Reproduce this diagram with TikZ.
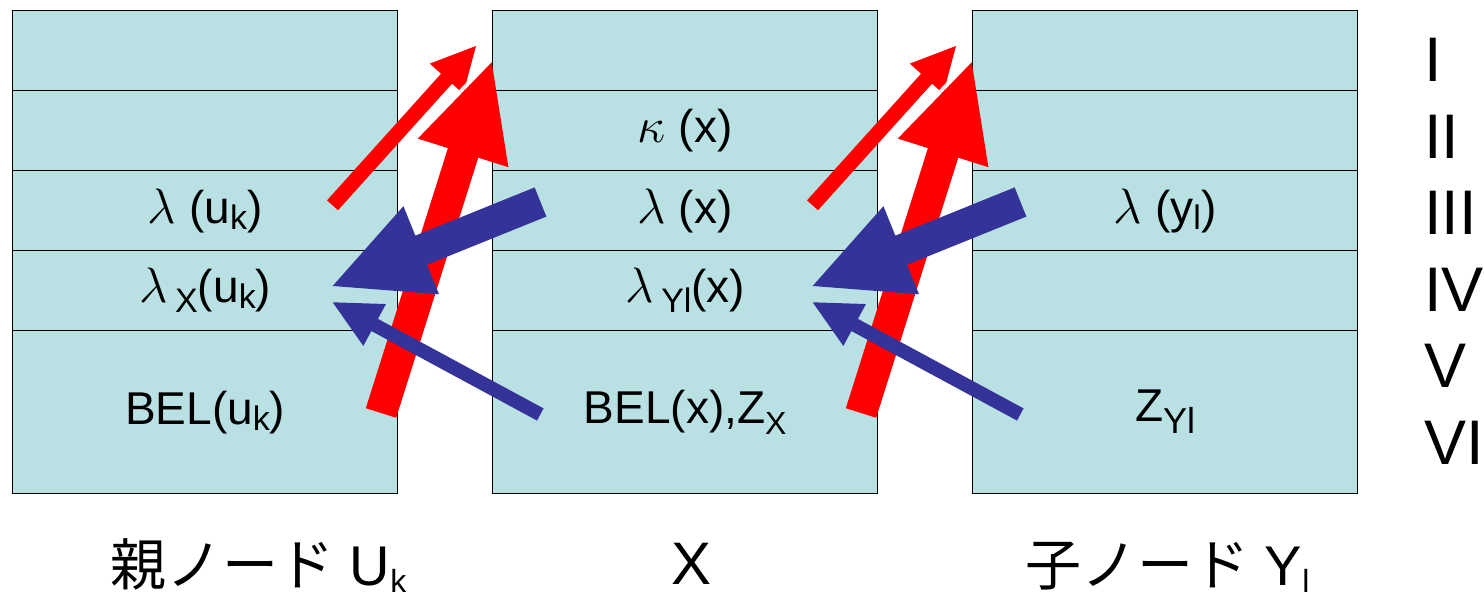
\documentclass[tikz,border=0pt]{standalone}
\usepackage{fontspec}
\setmainfont{Liberation Sans}
\newfontfamily\cjk{Noto Sans CJK JP}
\usetikzlibrary{calc}
\definecolor{cellfill}{RGB}{185,224,226}
\definecolor{arrred}{RGB}{255,0,0}
\definecolor{arrblue}{RGB}{51,51,153}
% lowered small text: #1 size (pt), #2 lowering, #3 text
\newcommand\lowtxt[3]{\raisebox{#2}{\fontsize{#1}{#1}\selectfont #3}}
% block arrow geometry: #1 name, #2 tail, #3 tip, #4 half shaft, #5 half head, #6 head length
\newcommand\defarrow[6]{%
  \coordinate (#1-T) at (#2);
  \coordinate (#1-P) at (#3);
  \coordinate (#1-B) at ($(#1-P)!#6!(#1-T)$);
  \coordinate (#1-1) at ($(#1-T)!#4!90:(#1-P)$);
  \coordinate (#1-2) at ($(#1-B)!#4!-90:(#1-T)$);
  \coordinate (#1-3) at ($(#1-B)!#5!-90:(#1-T)$);
  \coordinate (#1-4) at ($(#1-B)!#5!90:(#1-T)$);
  \coordinate (#1-5) at ($(#1-B)!#4!90:(#1-T)$);
  \coordinate (#1-6) at ($(#1-T)!#4!-90:(#1-P)$);
}
\newcommand\arrowfill[2]{\fill[#2] (#1-1) -- (#1-2) -- (#1-3) -- (#1-P) -- (#1-4) -- (#1-5) -- (#1-6) -- cycle;}
\newcommand\arrowclip[1]{\clip (#1-1) -- (#1-2) -- (#1-3) -- (#1-P) -- (#1-4) -- (#1-5) -- (#1-6) -- cycle;}
\newcommand\arrowline[2]{\draw[#2] (#1-1) -- (#1-2) -- (#1-3) -- (#1-P) -- (#1-4) -- (#1-5) -- (#1-6) -- cycle;}

\begin{document}
\begin{tikzpicture}[x=0.5pt,y=-0.5pt,
  cell/.style={draw=black,line width=0.65pt,fill=cellfill,rectangle,inner sep=0pt,
    minimum width=192.5pt,minimum height=40pt,anchor=north west,
    font=\fontsize{23}{23}\selectfont},
  tallcell/.style={cell,minimum height=81.5pt},
  numeral/.style={anchor=base west,inner sep=0pt,font=\fontsize{31.5}{31.5}\selectfont},
  caption/.style={anchor=base west,inner sep=0pt,font=\fontsize{28}{28}\selectfont},
  redfill/.style={fill=arrred},
  bluefill/.style={fill=arrblue},
  gapline/.style={draw=white,line width=4pt,line join=miter}]
\useasboundingbox (0,0) rectangle (1484,598);

% parent node U_k
\node[cell] (u1) at (12,10) {};
\node[cell] (u2) at (12,90) {};
\node[cell] (u3) at (12,170) {$\lambda$ (u\lowtxt{17}{-3pt}{k})};
\node[cell] (u4) at (12,250) {$\lambda$\,\lowtxt{17}{-5pt}{X}(u\lowtxt{17}{-3pt}{k})};
\node[tallcell] (u5) at (12,330) {BEL(u\lowtxt{17}{-3pt}{k})};

% node X
\node[cell] (x1) at (492,10) {};
\node[cell] (x2) at (492,90) {$\kappa$ (x)};
\node[cell] (x3) at (492,170) {$\lambda$ (x)};
\node[cell] (x4) at (492,250) {$\lambda$\,\lowtxt{17}{-5pt}{Yl}(x)};
\node[tallcell] (x5) at (492,330) {BEL(x),Z\lowtxt{16}{-5.5pt}{X}};

% child node Y_l
\node[cell] (y1) at (972,10) {};
\node[cell] (y2) at (972,90) {};
\node[cell] (y3) at (972,170) {$\lambda$ (y\lowtxt{17}{-3pt}{l})};
\node[cell] (y4) at (972,250) {};
\node[tallcell] (y5) at (972,330) {Z\lowtxt{18}{-6pt}{Yl}};

% row numerals
\node[numeral] (n1) at (1424,82) {I};
\node[numeral] (n2) at (1424,158.5) {II};
\node[numeral] (n3) at (1424,235) {III};
\node[numeral] (n4) at (1424,311.5) {IV};
\node[numeral] (n5) at (1424,388) {V};
\node[numeral] (n6) at (1424,464.5) {VI};

% captions
\node[caption] (cu) at (110,586) {{\cjk 親ノード} U\lowtxt{16}{-3.5pt}{k}};
\node[caption,anchor=base,font=\fontsize{30}{30}\selectfont] (cx) at (692,584) {X};
\node[caption] (cy) at (1025,586) {{\cjk 子ノード} Y\lowtxt{16}{-3.5pt}{l}};

% message arrows between neighbouring nodes
\foreach \dx/\n in {0/a,480/b}{
  \defarrow{rt\n}{332.5+\dx,205.3}{476+\dx,46}{3.7pt}{11.25pt}{22pt}
  \defarrow{rk\n}{381+\dx,413}{491.7+\dx,62.3}{7.95pt}{23.75pt}{47.5pt}
  \defarrow{bk\n}{540.5+\dx,202}{332.7+\dx,286}{7.85pt}{23.75pt}{47.75pt}
  \defarrow{bt\n}{540.3+\dx,414.5}{332.7+\dx,302.3}{3.45pt}{11.9pt}{23.85pt}
  \arrowfill{rt\n}{redfill}
  \begin{scope}
    \arrowclip{rt\n}
    \arrowline{rk\n}{gapline}
  \end{scope}
  \arrowfill{rk\n}{redfill}
  \arrowfill{bk\n}{bluefill}
  \arrowfill{bt\n}{bluefill}
}
\end{tikzpicture}
\end{document}
